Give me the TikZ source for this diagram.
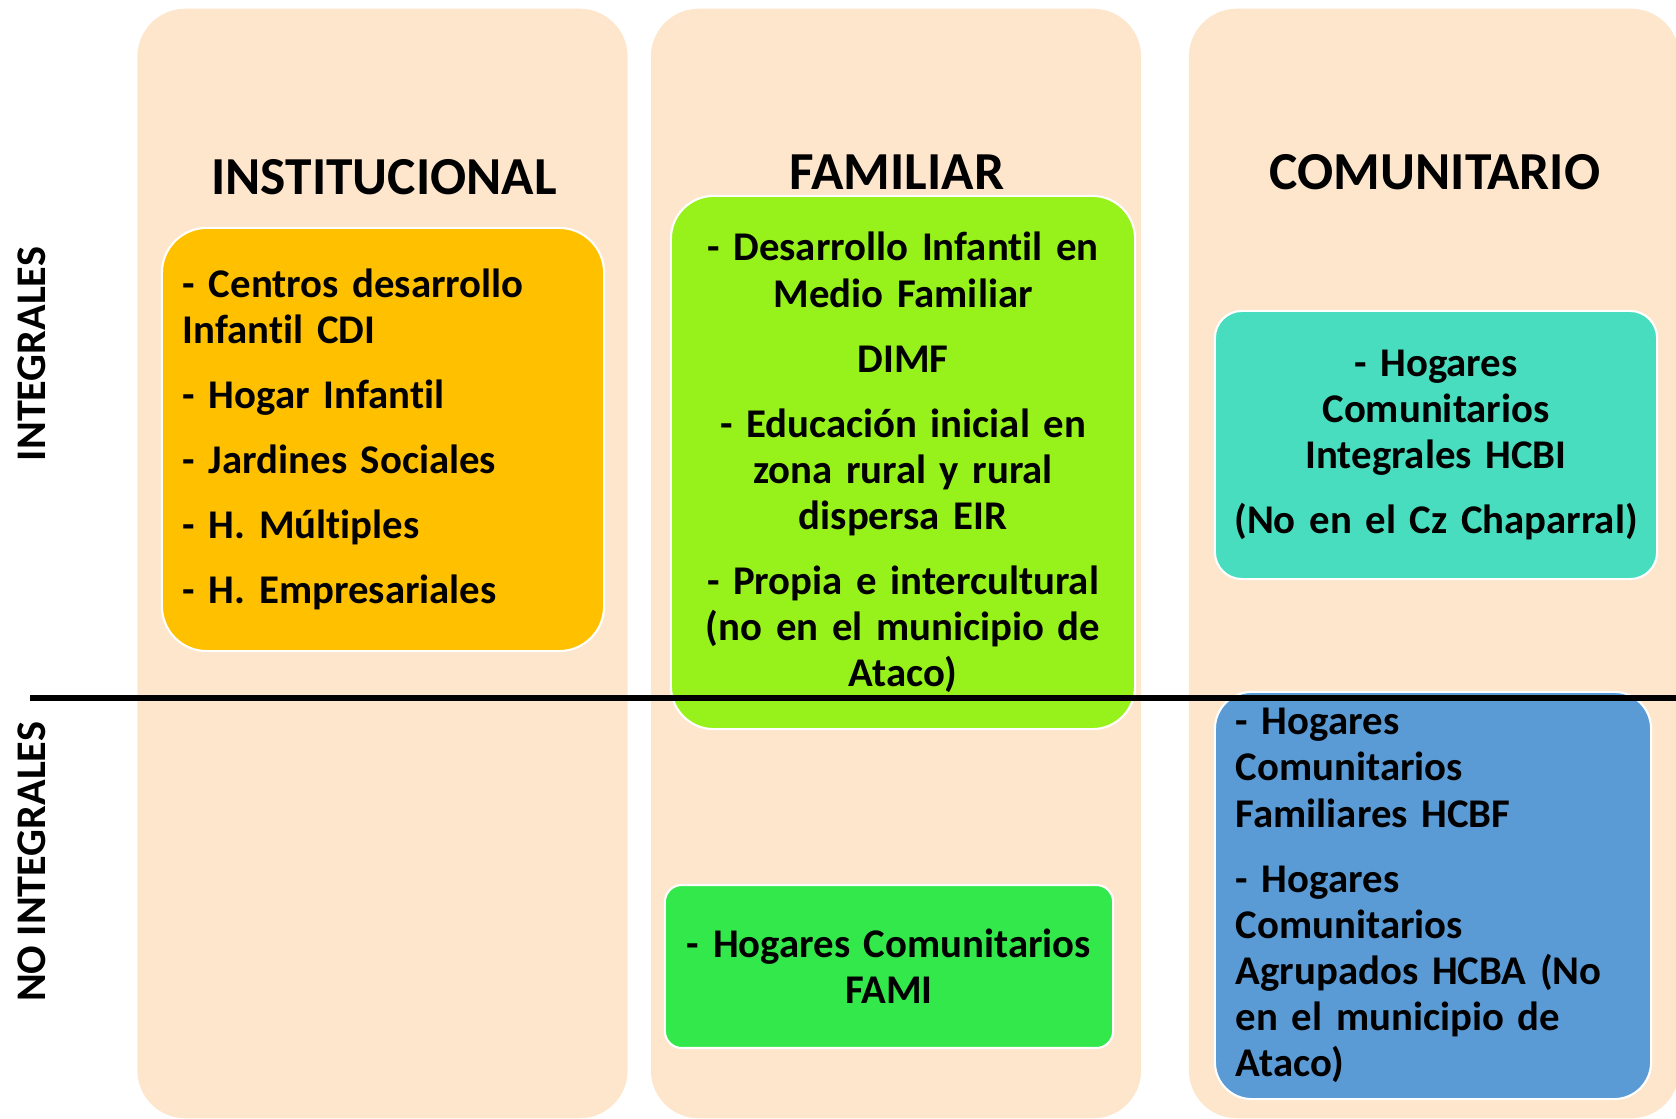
\documentclass[tikz,border=0pt]{standalone}
\usepackage{fontspec}
\setmainfont{Carlito}[Ligatures=NoCommon]
\usepackage{tikz}

\definecolor{peach}{HTML}{FDE6CC}
\definecolor{cinst}{HTML}{FFC000}
\definecolor{cdimf}{HTML}{97F21B}
\definecolor{cfami}{HTML}{33E84A}
\definecolor{chcbi}{HTML}{48DDBE}
\definecolor{chcb}{HTML}{5B9BD5}

\begin{document}
\begin{tikzpicture}[
  x=0.01cm, y=-0.01cm,
  col/.style={
    fill=peach, rounded corners=0.48cm,
    minimum width=4.9cm, minimum height=11.09cm, inner sep=0pt
  },
  box/.style={
    draw=white, line width=0.6pt, inner sep=0pt,
    font=\fontsize{11.6}{13.1}\selectfont\bfseries
  },
  hdr/.style={font=\fontsize{15.2}{18}\selectfont\bfseries, inner sep=0pt},
  lbl/.style={font=\fontsize{12}{14}\selectfont\bfseries, rotate=90, inner sep=0pt}
]
  \useasboundingbox (0,0) rectangle (1676,1119);
  \foreach \cx/\nm in {382.5/pinst,896/pfam,1434/pcom} {
    \node[col] (\nm) at (\cx,563.5){};
  }
  \node[hdr, anchor=base] (hinst) at (384,195){INSTITUCIONAL};
  \node[hdr, anchor=base] (hfam) at (897,190){FAMILIAR};
  \node[hdr, anchor=base] (hcom) at (1435,190){COMUNITARIO};

  \node[box, fill=cinst, rounded corners=0.45cm, minimum width=4.42cm,
    minimum height=4.23cm, text width=4.0cm, align=left] (cdi) at (383,439.5)
    {- Centros desarrollo\\ Infantil CDI\\[5.4pt] - Hogar Infantil\\[5.4pt]
     - Jardines Sociales\\[5.4pt] - H. Múltiples\\[5.4pt] - H. Empresariales};
  \node[box, fill=cdimf, rounded corners=0.43cm, minimum width=4.64cm,
    minimum height=5.33cm, text width=4.3cm, align=center] (dimf) at (903,462.5)
    {- Desarrollo Infantil en\\ Medio Familiar\\[5.4pt] DIMF\\[5.4pt]
     - Educación inicial en\\ zona rural y rural\\ dispersa EIR\\[5.4pt]
     - Propia e intercultural\\ (no en el municipio de\\ Ataco)};
  \node[box, fill=chcbi, rounded corners=0.27cm, minimum width=4.42cm,
    minimum height=2.68cm, text width=4.2cm, align=center] (hcbi) at (1436,445)
    {- Hogares\\ Comunitarios\\ Integrales HCBI\\[5.4pt] (No en el Cz Chaparral)};
  \node[box, fill=chcb, rounded corners=0.37cm, minimum width=4.36cm,
    minimum height=4.07cm, text width=3.94cm, align=left] (hcb) at (1433,895.5)
    {- Hogares\\ Comunitarios\\ Familiares HCBF\\[5.4pt] - Hogares\\ Comunitarios\\
     Agrupados HCBA (No\\ en el municipio de\\ Ataco)};
  \node[box, fill=cfami, rounded corners=0.17cm, minimum width=4.48cm,
    minimum height=1.63cm, text width=4.3cm, align=center] (fami) at (889,966.5)
    {- Hogares Comunitarios\\ FAMI};

  \node[lbl] (integ) at (32,354){INTEGRALES};
  \node[lbl] (nointeg) at (32,862){NO INTEGRALES};
  \coordinate (sepl) at (30,698);
  \coordinate (sepr) at (1676,698);
  \draw[line width=1.7pt] (sepl)--(sepr);
\end{tikzpicture}
\end{document}
